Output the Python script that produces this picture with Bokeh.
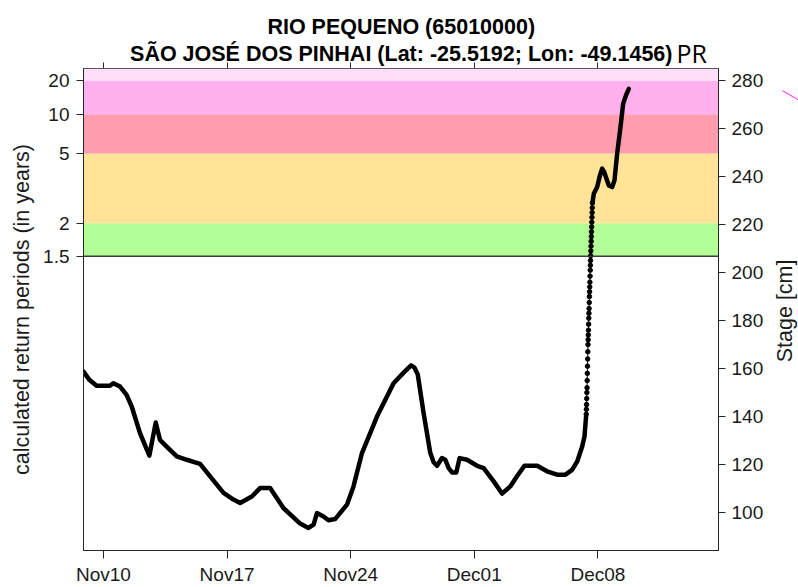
import math
from bokeh.plotting import figure
from bokeh.layouts import column, row
from bokeh.models import Range1d, LinearAxis, FixedTicker, Span
from bokeh.core.properties import value
from bokeh.embed import file_html
from bokeh.resources import INLINE

# ---------------- data ----------------
title_line1 = "RIO PEQUENO (65010000)"
title_line2 = "SÃO JOSÉ DOS PINHAI (Lat: -25.5192; Lon: -49.1456)"
state_tag = "PR"
left_label = "calculated return periods (in years)"
right_label = "Stage [cm]"

# x = days since Nov 10
date_tick_days = [0, 7, 14, 21, 28]
date_tick_labels = ["Nov10", "Nov17", "Nov24", "Dec01", "Dec08"]

# return-period thresholds expressed as stage (cm)
rp_labels = ["1.5", "2", "5", "10", "20"]
rp_stage_cm = [206.8, 220.5, 249.6, 265.9, 280.0]
band_colors = ["#B2FF98", "#FFE396", "#FF9DAF", "#FFB1EE", "#FFDEF7"]

stage_ticks = [100, 120, 140, 160, 180, 200, 220, 240, 260, 280]

# observed stage, slow part (dense readings)
t_a = [-1.13, -0.8, -0.39, 0.37, 0.56, 0.94, 1.31, 1.6, 2.07, 2.6, 2.96, 3.2,
       3.58, 4.15, 4.72, 5.47, 6.04, 6.8, 7.36, 7.74, 8.4, 8.87, 9.44, 10.19,
       11.14, 11.61, 11.9, 12.09, 12.46, 12.74, 13.12, 13.79, 14.16, 14.64,
       15.49, 16.43, 17.0, 17.42, 17.6, 17.8, 18.13, 18.32, 18.51, 18.7, 18.89,
       19.17, 19.36, 19.55, 19.74, 19.98, 20.17, 20.59, 21.16, 21.53, 22.1,
       22.57, 23.04, 23.42, 23.84, 24.56, 25.12, 25.69, 26.16, 26.54, 26.83,
       27.11, 27.24, 27.33]
s_a = [158.7, 155.3, 152.8, 152.8, 153.9, 152.5, 149.0, 144.2, 133.1, 123.7,
       137.5, 130.3, 127.5, 123.4, 122.0, 120.3, 115.1, 108.2, 105.4, 104.0,
       106.7, 110.2, 110.2, 101.9, 95.4, 93.6, 95.0, 99.8, 98.4, 96.8, 97.3,
       103.3, 110.9, 124.8, 140.0, 153.9, 158.3, 161.3, 160.5, 157.5, 141.4,
       133.1, 124.8, 121.0, 119.5, 122.7, 122.0, 118.5, 116.7, 116.7, 122.7,
       122.0, 119.5, 118.5, 113.0, 107.9, 110.9, 115.1, 119.5, 119.5, 117.2,
       115.8, 115.8, 117.8, 121.3, 127.5, 131.7, 140.0]

# observed stage, steep rise (individual readings visible)
t_b = [27.340, 27.349, 27.358, 27.367, 27.376, 27.385, 27.394, 27.403, 27.412,
       27.421, 27.430, 27.439, 27.448, 27.457, 27.466, 27.475, 27.484, 27.493,
       27.502, 27.511, 27.520, 27.529, 27.538, 27.547, 27.556, 27.565, 27.574,
       27.583, 27.592, 27.601, 27.610, 27.619, 27.628, 27.637, 27.646, 27.655,
       27.664, 27.673, 27.682, 27.691]
s_b = [141, 143, 145, 147.5, 150, 152, 155, 158, 161, 164, 167, 170, 172, 174,
       176, 178.5, 181, 183, 185, 187.5, 190, 192, 194, 196, 198.5, 201, 203,
       205, 207, 209, 211, 213, 215, 217, 219, 221, 223, 225, 227, 229]

# observed stage, after the rise
t_c = [27.691, 27.77, 27.96, 28.1, 28.24, 28.35, 28.62, 28.81, 28.94, 29.09,
       29.28, 29.43, 29.6, 29.75]
s_c = [229.0, 232.9, 235.6, 240.0, 243.3, 242.0, 236.3, 235.6, 238.4, 249.5,
       260.6, 270.3, 274.0, 276.5]

# ---------------- styling ----------------
FONT = "Liberation Sans"
AX = "#262626"
TXT = "#1a1a1a"
x0, x1 = -1.13, 34.83
y0, y1 = 84.2, 285.0

W, H = 798, 587
HEAD_H = 68          # title strip height (ends at the plot frame's top edge)
MAIN_W = 770         # main plot width (right strip holds the axis title)
STRIP_W = W - MAIN_W
BODY_H = H - HEAD_H
FL, FR = 83, 718     # frame left / right in page pixels


def bare(fig):
    fig.xgrid.visible = False
    fig.ygrid.visible = False
    fig.outline_line_color = None
    fig.background_fill_color = "white"
    fig.border_fill_color = "white"


def px_to_day(px):
    # position of a header text, given in page pixels, expressed on the shared x range
    return x0 + (px - FL) * (x1 - x0) / (FR - FL)


def style_axis(ax):
    ax.axis_line_color = AX
    ax.major_tick_line_color = AX
    ax.minor_tick_line_color = None
    ax.major_tick_in = 0
    ax.major_tick_out = 7
    ax.major_label_text_font = FONT
    ax.major_label_text_font_size = "19px"
    ax.major_label_text_color = TXT
    ax.axis_label_text_font = FONT
    ax.axis_label_text_font_style = "normal"
    ax.axis_label_text_font_size = "21.5px"
    ax.axis_label_text_color = TXT


xr = Range1d(x0, x1)

# ---------------- header (titles + top ticks) ----------------
head = figure(width=W, height=HEAD_H, output_backend="svg", toolbar_location=None,
              x_range=xr, y_range=Range1d(0, HEAD_H),
              x_axis_type=None, y_axis_type=None,
              min_border_left=FL, min_border_right=W - FR,
              min_border_top=0, min_border_bottom=0)
bare(head)
head.text(x=[px_to_day(400.75)], y=[HEAD_H - 26.7], text=[title_line1], text_align="center",
          text_baseline="alphabetic", text_font=value(FONT), text_font_size="21.5px",
          text_font_style="bold", text_color="black")
head.text(x=[px_to_day(400.75)], y=[HEAD_H - 53.8], text=[title_line2], text_align="center",
          text_baseline="alphabetic", text_font=value(FONT), text_font_size="21.5px",
          text_font_style="bold", text_color="black")
head.text(x=[px_to_day(676)], y=[HEAD_H - 52.0], text=[state_tag], text_align="left",
          text_baseline="alphabetic", text_font=value("Open Sans"), text_font_size="25px",
          text_color="black")

# top ticks of the plot box (pointing up from the frame edge)
ta = LinearAxis(ticker=FixedTicker(ticks=date_tick_days))
style_axis(ta)
ta.axis_line_color = None
ta.major_tick_in = 6
ta.major_tick_out = 0
ta.major_label_text_font_size = "0px"
ta.major_label_text_color = None
ta.major_label_standoff = 0
head.add_layout(ta, "below")

# ---------------- main plot ----------------
p = figure(width=MAIN_W, height=BODY_H, output_backend="svg", toolbar_location=None,
           x_range=xr, y_range=Range1d(y0, y1),
           min_border_left=FL, min_border_right=MAIN_W - FR, min_border_top=0,
           min_border_bottom=36)
bare(p)
p.outline_line_color = AX
p.outline_line_width = 1

# return period bands
bottoms = rp_stage_cm
tops = rp_stage_cm[1:] + [y1]
p.quad(left=x0, right=x1, bottom=bottoms, top=tops, fill_color=band_colors,
       line_color=None)
p.add_layout(Span(location=rp_stage_cm[0], dimension="width", line_color="#3a3a3a",
                  line_width=1.5))

# series
t_all = t_a + t_b + t_c
s_all = s_a + s_b + s_c
p.line(t_all, s_all, line_color="black", line_width=1)
p.line(t_a, s_a, line_color="black", line_width=4.5, line_join="round", line_cap="round")
p.line(t_c, s_c, line_color="black", line_width=4.5, line_join="round", line_cap="round")
p.scatter(t_b, s_b, size=4.5, color="black")

# bottom axis
xa = p.xaxis[0]
xa.ticker = FixedTicker(ticks=date_tick_days)
xa.major_label_overrides = {d: l for d, l in zip(date_tick_days, date_tick_labels)}
style_axis(xa)
xa.major_tick_out = 8
xa.major_label_standoff = 5

# left axis: return periods
ya = p.yaxis[0]
ya.ticker = FixedTicker(ticks=rp_stage_cm)
ya.major_label_overrides = {s: l for s, l in zip(rp_stage_cm, rp_labels)}
style_axis(ya)
ya.major_label_standoff = 7
ya.axis_label = left_label
ya.axis_label_standoff = 6

# right axis: stage
ra = LinearAxis(ticker=FixedTicker(ticks=stage_ticks))
style_axis(ra)
ra.major_label_standoff = 6
p.add_layout(ra, "right")

# ---------------- right strip (axis title) ----------------
strip = figure(width=STRIP_W, height=BODY_H, output_backend="svg", toolbar_location=None,
               x_range=Range1d(MAIN_W, W), y_range=Range1d(0, BODY_H),
               x_axis_type=None, y_axis_type=None, min_border=0)
bare(strip)
strip.text(x=[784], y=[H - 329], text=[right_label], angle=math.pi / 2,
           text_align="center", text_baseline="middle", text_font=value(FONT),
           text_font_size="21.5px", text_color=TXT)
# small magenta stroke at the right edge
strip.segment(x0=[782], y0=[H - 92], x1=[799], y1=[H - 102.5], line_color="#FF45FF",
              line_width=1.2)

layout = column(head, row(p, strip, spacing=0), spacing=0)

open("out.html", "w").write(file_html(layout, INLINE))
